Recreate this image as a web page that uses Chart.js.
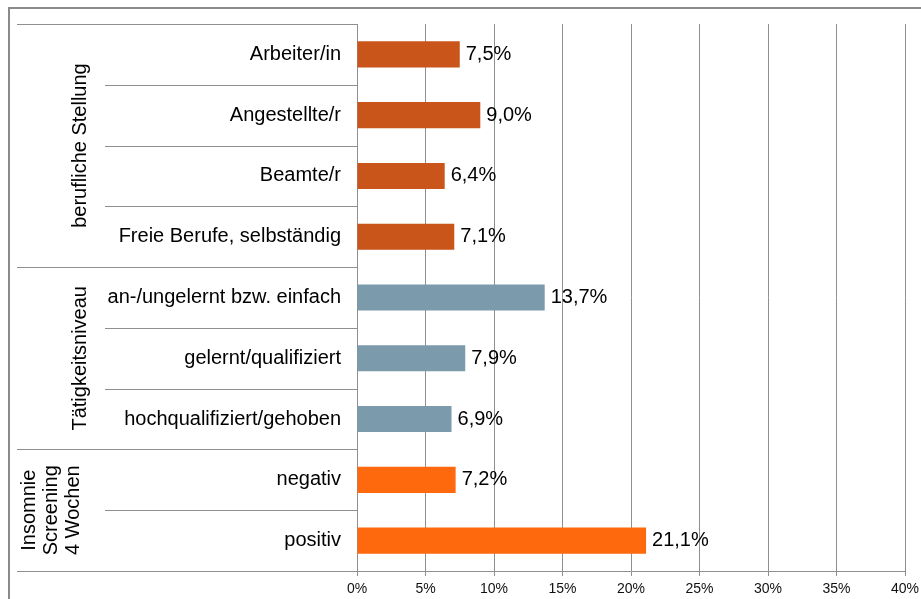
<!DOCTYPE html>
<html>
<head>
<meta charset="utf-8">
<script src="https://cdn.jsdelivr.net/npm/chart.js@4/dist/chart.umd.min.js"></script>
<style>
  html, body { margin: 0; padding: 0; background: #fff; }
  #wrap { width: 921px; height: 599px; }
</style>
</head>
<body>
<div id="wrap"><canvas id="chart"></canvas></div>
<script>
const categories = [
  'Arbeiter/in',
  'Angestellte/r',
  'Beamte/r',
  'Freie Berufe, selbständig',
  'an-/ungelernt bzw. einfach',
  'gelernt/qualifiziert',
  'hochqualifiziert/gehoben',
  'negativ',
  'positiv'
];
const values = [7.5, 9.0, 6.4, 7.1, 13.7, 7.9, 6.9, 7.2, 21.1];

// groups along the category axis: label lines and number of rows
const groupLabels = [['berufliche Stellung'], ['Tätigkeitsniveau'], ['Insomnie', 'Screening', '4 Wochen']];
const groupSizes = [4, 3, 2];
const groupColors = ['#C9551B', '#7B9AAB', '#FF690D'];

const tickValues = [0, 5, 10, 15, 20, 25, 30, 35, 40];

const barColors = [];
groupSizes.forEach((n, g) => { for (let i = 0; i < n; i++) barColors.push(groupColors[g]); });

const FONT = '"Liberation Sans", Arial, sans-serif';
const LINE = '#8f8f8f';

const fmt = v => v.toFixed(1).replace('.', ',') + '%';

const decorations = {
  id: 'decorations',
  afterDraw(chart) {
    const { ctx, scales: { x, y } } = chart;
    const left = x.left;
    const boundary = i => {
      if (i <= 0) return y.getPixelForValue(0) - (y.getPixelForValue(1) - y.getPixelForValue(0)) / 2;
      if (i >= categories.length) {
        const n = categories.length - 1;
        return y.getPixelForValue(n) + (y.getPixelForValue(n) - y.getPixelForValue(n - 1)) / 2;
      }
      return (y.getPixelForValue(i - 1) + y.getPixelForValue(i)) / 2;
    };

    ctx.save();
    // outer frame
    ctx.strokeStyle = '#8a8a8a';
    ctx.lineWidth = 2;
    ctx.beginPath();
    ctx.moveTo(9, 599);
    ctx.lineTo(9, 8);
    ctx.lineTo(921, 8);
    ctx.stroke();

    // row dividers and group dividers
    ctx.lineWidth = 1;
    ctx.strokeStyle = LINE;
    const groupStarts = [0];
    groupSizes.forEach(n => groupStarts.push(groupStarts[groupStarts.length - 1] + n));
    for (let i = 0; i <= categories.length; i++) {
      const py = Math.round(boundary(i)) + 0.5;
      const isGroup = groupStarts.includes(i);
      ctx.beginPath();
      ctx.moveTo(isGroup ? 17 : 105, py);
      ctx.lineTo(left, py);
      ctx.stroke();
    }

    // group titles, rotated
    ctx.fillStyle = '#000';
    ctx.font = '20px ' + FONT;
    ctx.textAlign = 'center';
    ctx.textBaseline = 'middle';
    groupLabels.forEach((lines, g) => {
      const cy = (boundary(groupStarts[g]) + boundary(groupStarts[g + 1])) / 2;
      const lh = 22;
      const cx = lines.length > 1 ? 50 : 79;
      lines.forEach((t, k) => {
        const px = cx + (k - (lines.length - 1) / 2) * lh;
        ctx.save();
        ctx.translate(px, cy);
        ctx.rotate(-Math.PI / 2);
        ctx.fillText(t, 0, 1);
        ctx.restore();
      });
    });

    // value labels next to the bars
    const meta = chart.getDatasetMeta(0);
    ctx.textAlign = 'left';
    meta.data.forEach((bar, i) => {
      ctx.fillText(fmt(values[i]), bar.x + 6, bar.y);
    });
    ctx.restore();
  }
};

new Chart(document.getElementById('chart'), {
  type: 'bar',
  data: {
    labels: categories,
    datasets: [{
      data: values,
      backgroundColor: barColors,
      borderWidth: 0,
      barPercentage: 0.43,
      categoryPercentage: 1
    }]
  },
  options: {
    indexAxis: 'y',
    responsive: true,
    maintainAspectRatio: false,
    animation: false,
    layout: { padding: { top: 24, right: 0, left: 0, bottom: 0 } },
    plugins: {
      legend: { display: false },
      tooltip: { enabled: false }
    },
    scales: {
      x: {
        min: 0,
        max: 40,
        afterBuildTicks: scale => { scale.ticks = tickValues.map(v => ({ value: v })); },
        ticks: {
          callback: v => v + '%',
          color: '#111',
          font: { family: FONT, size: 14 },
          padding: 5,
          maxRotation: 0
        },
        grid: { color: LINE, lineWidth: 1, tickLength: 5 },
        border: { color: LINE },
        afterFit: scale => {
          scale.height = 28;
          scale.paddingRight = 16;
        }
      },
      y: {
        ticks: {
          color: '#000',
          font: { family: FONT, size: 20 },
          padding: 8
        },
        grid: { display: false },
        border: { color: LINE },
        afterFit: scale => { scale.width = 357; }
      }
    }
  },
  plugins: [decorations]
});
</script>
</body>
</html>
